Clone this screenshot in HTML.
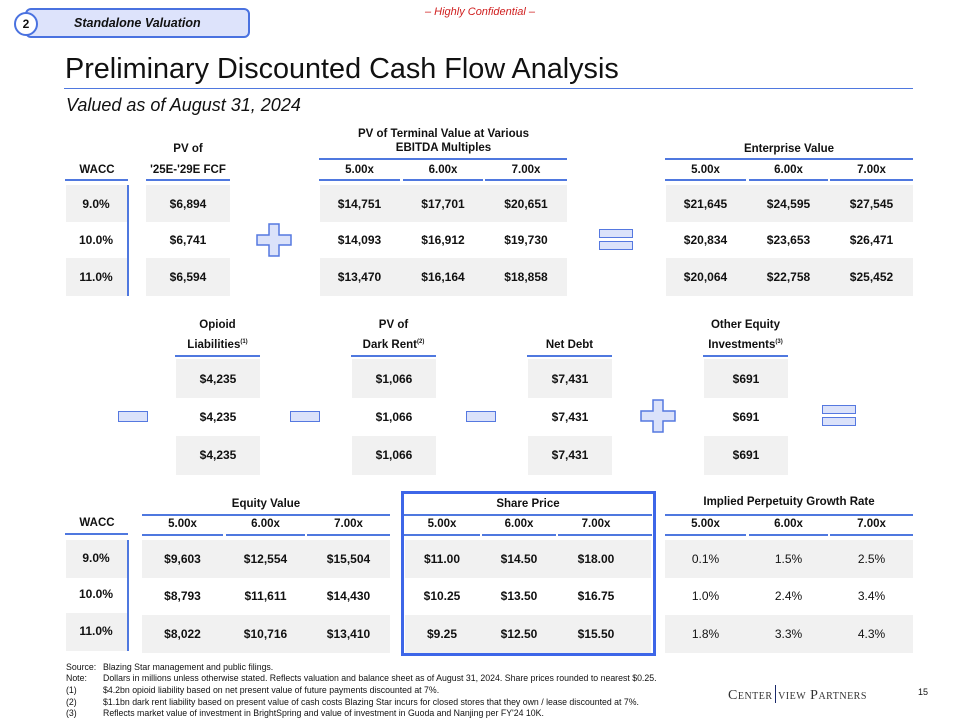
<!DOCTYPE html>
<html><head><meta charset="utf-8">
<style>
*{margin:0;padding:0;box-sizing:border-box}
body{width:960px;height:720px;position:relative;background:#fff;font-family:"Liberation Sans",sans-serif;color:#111;overflow:hidden}
.a{position:absolute}
.c{position:absolute;text-align:center;font-weight:bold;font-size:12px;white-space:nowrap}
.g{position:absolute;background:#f1f1f1}
.h{position:absolute;text-align:center;font-weight:bold;font-size:11.5px;white-space:nowrap}
.l{position:absolute;height:2px;background:#4f78df}
.v{position:absolute;width:2px;background:#4f78df}
.mi{position:absolute;width:30px;height:11px;background:#dbe2fa;border:1.5px solid #5578e0}
.eq{position:absolute;width:34px;height:9px;background:#dbe2fa;border:1.5px solid #5578e0}
sup{font-size:6px;vertical-align:5px}
.fn{position:absolute;font-size:8.75px;white-space:nowrap;left:66px}
.fn span{position:absolute;left:37px}
</style></head><body>

<!-- header pill -->
<div class="a" style="left:25px;top:8px;width:225px;height:30px;background:#dde3fb;border:2px solid #4a72e0;border-radius:6px"></div>
<div class="a" style="left:14px;top:12px;width:24px;height:24px;border-radius:50%;background:#fff;border:2px solid #4a72e0;font-weight:bold;font-size:12px;text-align:center;line-height:20px">2</div>
<div class="a" style="left:74px;top:16px;font-size:12.5px;font-weight:bold;font-style:italic">Standalone Valuation</div>
<div class="a" style="left:400px;top:6px;width:160px;text-align:center;color:#d02020;font-style:italic;font-size:11px">– Highly Confidential –</div>

<div class="a" style="left:65px;top:53px;font-size:28.8px">Preliminary Discounted Cash Flow Analysis</div>
<div class="a" style="left:64px;top:88px;width:849px;height:1px;background:#4f78df"></div>
<div class="a" style="left:66px;top:95px;font-size:18px;font-style:italic">Valued as of August 31, 2024</div>

<!-- TOP SECTION -->
<div class="g" style="left:66px;top:185px;width:62px;height:37px"></div>
<div class="g" style="left:66px;top:258px;width:62px;height:38px"></div>
<div class="g" style="left:146px;top:185px;width:84px;height:37px"></div>
<div class="g" style="left:146px;top:258px;width:84px;height:38px"></div>
<div class="g" style="left:320px;top:185px;width:247px;height:37px"></div>
<div class="g" style="left:320px;top:258px;width:247px;height:38px"></div>
<div class="g" style="left:666px;top:185px;width:247px;height:37px"></div>
<div class="g" style="left:666px;top:258px;width:247px;height:38px"></div>

<div class="h" style="left:66px;top:164px;width:62px">WACC</div>
<div class="l" style="left:65px;top:179px;width:63px"></div>
<div class="v" style="left:127px;top:185px;height:111px"></div>
<div class="h" style="left:146px;top:143px;width:84px">PV of</div>
<div class="h" style="left:146px;top:164px;width:84px">'25E-'29E FCF</div>
<div class="l" style="left:146px;top:179px;width:84px"></div>

<div class="h" style="left:300px;top:128px;width:287px">PV of Terminal Value at Various</div>
<div class="h" style="left:300px;top:142px;width:287px">EBITDA Multiples</div>
<div class="l" style="left:319px;top:158px;width:248px"></div>
<div class="h" style="left:319px;top:164px;width:81px">5.00x</div>
<div class="h" style="left:403px;top:164px;width:80px">6.00x</div>
<div class="h" style="left:485px;top:164px;width:82px">7.00x</div>
<div class="l" style="left:319px;top:179px;width:81px"></div>
<div class="l" style="left:403px;top:179px;width:80px"></div>
<div class="l" style="left:485px;top:179px;width:82px"></div>

<div class="h" style="left:665px;top:143px;width:248px">Enterprise Value</div>
<div class="l" style="left:665px;top:158px;width:248px"></div>
<div class="h" style="left:665px;top:164px;width:81px">5.00x</div>
<div class="h" style="left:749px;top:164px;width:79px">6.00x</div>
<div class="h" style="left:830px;top:164px;width:83px">7.00x</div>
<div class="l" style="left:665px;top:179px;width:81px"></div>
<div class="l" style="left:749px;top:179px;width:79px"></div>
<div class="l" style="left:830px;top:179px;width:83px"></div>

<!-- top values -->
<div class="c" style="left:66px;top:197px;width:60px">9.0%</div>
<div class="c" style="left:66px;top:233px;width:60px">10.0%</div>
<div class="c" style="left:66px;top:270px;width:60px">11.0%</div>
<div class="c" style="left:146px;top:197px;width:84px">$6,894</div>
<div class="c" style="left:146px;top:233px;width:84px">$6,741</div>
<div class="c" style="left:146px;top:270px;width:84px">$6,594</div>
<div class="c" style="left:319px;top:197px;width:81px">$14,751</div>
<div class="c" style="left:403px;top:197px;width:80px">$17,701</div>
<div class="c" style="left:485px;top:197px;width:82px">$20,651</div>
<div class="c" style="left:319px;top:233px;width:81px">$14,093</div>
<div class="c" style="left:403px;top:233px;width:80px">$16,912</div>
<div class="c" style="left:485px;top:233px;width:82px">$19,730</div>
<div class="c" style="left:319px;top:270px;width:81px">$13,470</div>
<div class="c" style="left:403px;top:270px;width:80px">$16,164</div>
<div class="c" style="left:485px;top:270px;width:82px">$18,858</div>
<div class="c" style="left:665px;top:197px;width:81px">$21,645</div>
<div class="c" style="left:749px;top:197px;width:79px">$24,595</div>
<div class="c" style="left:830px;top:197px;width:83px">$27,545</div>
<div class="c" style="left:665px;top:233px;width:81px">$20,834</div>
<div class="c" style="left:749px;top:233px;width:79px">$23,653</div>
<div class="c" style="left:830px;top:233px;width:83px">$26,471</div>
<div class="c" style="left:665px;top:270px;width:81px">$20,064</div>
<div class="c" style="left:749px;top:270px;width:79px">$22,758</div>
<div class="c" style="left:830px;top:270px;width:83px">$25,452</div>

<!-- plus / equals top -->
<svg class="a" style="left:256px;top:223px" width="36" height="34"><path d="M13 1h10v11h12v10H23v11H13V22H1V12h12z" fill="#dbe2fa" stroke="#5578e0" stroke-width="1.5"/></svg>
<div class="eq" style="left:599px;top:229px"></div>
<div class="eq" style="left:599px;top:241px"></div>

<!-- MIDDLE -->
<div class="g" style="left:176px;top:359px;width:84px;height:39px"></div>
<div class="g" style="left:176px;top:436px;width:84px;height:39px"></div>
<div class="g" style="left:352px;top:359px;width:84px;height:39px"></div>
<div class="g" style="left:352px;top:436px;width:84px;height:39px"></div>
<div class="g" style="left:528px;top:359px;width:84px;height:39px"></div>
<div class="g" style="left:528px;top:436px;width:84px;height:39px"></div>
<div class="g" style="left:704px;top:359px;width:84px;height:39px"></div>
<div class="g" style="left:704px;top:436px;width:84px;height:39px"></div>

<div class="h" style="left:175px;top:319px;width:85px">Opioid</div>
<div class="h" style="left:175px;top:339px;width:85px">Liabilities<sup>(1)</sup></div>
<div class="l" style="left:175px;top:355px;width:85px"></div>
<div class="h" style="left:351px;top:319px;width:85px">PV of</div>
<div class="h" style="left:351px;top:339px;width:85px">Dark Rent<sup>(2)</sup></div>
<div class="l" style="left:351px;top:355px;width:85px"></div>
<div class="h" style="left:527px;top:339px;width:85px">Net Debt</div>
<div class="l" style="left:527px;top:355px;width:85px"></div>
<div class="h" style="left:703px;top:319px;width:85px">Other Equity</div>
<div class="h" style="left:703px;top:339px;width:85px">Investments<sup>(3)</sup></div>
<div class="l" style="left:703px;top:355px;width:85px"></div>

<div class="c" style="left:176px;top:372px;width:84px">$4,235</div>
<div class="c" style="left:176px;top:410px;width:84px">$4,235</div>
<div class="c" style="left:176px;top:448px;width:84px">$4,235</div>
<div class="c" style="left:352px;top:372px;width:84px">$1,066</div>
<div class="c" style="left:352px;top:410px;width:84px">$1,066</div>
<div class="c" style="left:352px;top:448px;width:84px">$1,066</div>
<div class="c" style="left:528px;top:372px;width:84px">$7,431</div>
<div class="c" style="left:528px;top:410px;width:84px">$7,431</div>
<div class="c" style="left:528px;top:448px;width:84px">$7,431</div>
<div class="c" style="left:704px;top:372px;width:84px">$691</div>
<div class="c" style="left:704px;top:410px;width:84px">$691</div>
<div class="c" style="left:704px;top:448px;width:84px">$691</div>

<div class="mi" style="left:118px;top:411px"></div>
<div class="mi" style="left:290px;top:411px"></div>
<div class="mi" style="left:466px;top:411px"></div>
<svg class="a" style="left:640px;top:399px" width="36" height="34"><path d="M13 1h10v11h12v10H23v11H13V22H1V12h12z" fill="#dbe2fa" stroke="#5578e0" stroke-width="1.5"/></svg>
<div class="eq" style="left:822px;top:405px"></div>
<div class="eq" style="left:822px;top:417px"></div>

<!-- BOTTOM -->
<div class="g" style="left:66px;top:540px;width:62px;height:38px"></div>
<div class="g" style="left:66px;top:613px;width:62px;height:38px"></div>
<div class="g" style="left:142px;top:540px;width:248px;height:38px"></div>
<div class="g" style="left:142px;top:615px;width:248px;height:38px"></div>
<div class="g" style="left:405px;top:540px;width:246px;height:38px"></div>
<div class="g" style="left:405px;top:615px;width:246px;height:38px"></div>
<div class="g" style="left:665px;top:540px;width:248px;height:38px"></div>
<div class="g" style="left:665px;top:615px;width:248px;height:38px"></div>

<div class="h" style="left:66px;top:517px;width:62px">WACC</div>
<div class="l" style="left:65px;top:533px;width:63px"></div>
<div class="v" style="left:127px;top:540px;height:111px"></div>

<div class="h" style="left:142px;top:498px;width:248px">Equity Value</div>
<div class="l" style="left:142px;top:514px;width:248px"></div>
<div class="h" style="left:142px;top:518px;width:81px">5.00x</div>
<div class="h" style="left:226px;top:518px;width:79px">6.00x</div>
<div class="h" style="left:307px;top:518px;width:83px">7.00x</div>
<div class="l" style="left:142px;top:534px;width:81px"></div>
<div class="l" style="left:226px;top:534px;width:79px"></div>
<div class="l" style="left:307px;top:534px;width:83px"></div>

<div class="a" style="left:401px;top:491px;width:255px;height:165px;border:3.5px solid #3d66e8"></div>
<div class="h" style="left:404px;top:498px;width:248px">Share Price</div>
<div class="l" style="left:404px;top:514px;width:248px"></div>
<div class="h" style="left:404px;top:518px;width:76px">5.00x</div>
<div class="h" style="left:482px;top:518px;width:74px">6.00x</div>
<div class="h" style="left:558px;top:518px;width:76px">7.00x</div>
<div class="l" style="left:404px;top:534px;width:76px"></div>
<div class="l" style="left:482px;top:534px;width:74px"></div>
<div class="l" style="left:558px;top:534px;width:94px"></div>

<div class="h" style="left:665px;top:496px;width:248px">Implied Perpetuity Growth Rate</div>
<div class="l" style="left:665px;top:514px;width:248px"></div>
<div class="h" style="left:665px;top:518px;width:81px">5.00x</div>
<div class="h" style="left:749px;top:518px;width:79px">6.00x</div>
<div class="h" style="left:830px;top:518px;width:83px">7.00x</div>
<div class="l" style="left:665px;top:534px;width:81px"></div>
<div class="l" style="left:749px;top:534px;width:79px"></div>
<div class="l" style="left:830px;top:534px;width:83px"></div>

<div class="c" style="left:66px;top:551px;width:60px">9.0%</div>
<div class="c" style="left:66px;top:587px;width:60px">10.0%</div>
<div class="c" style="left:66px;top:624px;width:60px">11.0%</div>

<div class="c" style="left:142px;top:552px;width:81px">$9,603</div>
<div class="c" style="left:226px;top:552px;width:79px">$12,554</div>
<div class="c" style="left:307px;top:552px;width:83px">$15,504</div>
<div class="c" style="left:142px;top:589px;width:81px">$8,793</div>
<div class="c" style="left:226px;top:589px;width:79px">$11,611</div>
<div class="c" style="left:307px;top:589px;width:83px">$14,430</div>
<div class="c" style="left:142px;top:627px;width:81px">$8,022</div>
<div class="c" style="left:226px;top:627px;width:79px">$10,716</div>
<div class="c" style="left:307px;top:627px;width:83px">$13,410</div>

<div class="c" style="left:404px;top:552px;width:76px">$11.00</div>
<div class="c" style="left:482px;top:552px;width:74px">$14.50</div>
<div class="c" style="left:558px;top:552px;width:76px">$18.00</div>
<div class="c" style="left:404px;top:589px;width:76px">$10.25</div>
<div class="c" style="left:482px;top:589px;width:74px">$13.50</div>
<div class="c" style="left:558px;top:589px;width:76px">$16.75</div>
<div class="c" style="left:404px;top:627px;width:76px">$9.25</div>
<div class="c" style="left:482px;top:627px;width:74px">$12.50</div>
<div class="c" style="left:558px;top:627px;width:76px">$15.50</div>

<div class="c" style="left:665px;top:552px;width:81px;font-weight:normal">0.1%</div>
<div class="c" style="left:749px;top:552px;width:79px;font-weight:normal">1.5%</div>
<div class="c" style="left:830px;top:552px;width:83px;font-weight:normal">2.5%</div>
<div class="c" style="left:665px;top:589px;width:81px;font-weight:normal">1.0%</div>
<div class="c" style="left:749px;top:589px;width:79px;font-weight:normal">2.4%</div>
<div class="c" style="left:830px;top:589px;width:83px;font-weight:normal">3.4%</div>
<div class="c" style="left:665px;top:627px;width:81px;font-weight:normal">1.8%</div>
<div class="c" style="left:749px;top:627px;width:79px;font-weight:normal">3.3%</div>
<div class="c" style="left:830px;top:627px;width:83px;font-weight:normal">4.3%</div>

<!-- footnotes -->
<div class="fn" style="top:662px">Source:<span>Blazing Star management and public filings.</span></div>
<div class="fn" style="top:673px">Note:<span>Dollars in millions unless otherwise stated. Reflects valuation and balance sheet as of August 31, 2024. Share prices rounded to nearest $0.25.</span></div>
<div class="fn" style="top:685px">(1)<span>$4.2bn opioid liability based on net present value of future payments discounted at 7%.</span></div>
<div class="fn" style="top:697px">(2)<span>$1.1bn dark rent liability based on present value of cash costs Blazing Star incurs for closed stores that they own / lease discounted at 7%.</span></div>
<div class="fn" style="top:708px">(3)<span>Reflects market value of investment in BrightSpring and value of investment in Guoda and Nanjing per FY'24 10K.</span></div>

<div class="a" style="left:728px;top:685px;font-family:'Liberation Serif',serif;font-size:14px;font-variant:small-caps;color:#333;letter-spacing:0.5px">Center<span style="display:inline-block;width:1.5px;height:18px;background:#1a2a6a;vertical-align:-4px;margin:0 2px"></span>view Partners</div>
<div class="a" style="left:918px;top:687px;font-size:9px">15</div>
</body></html>
